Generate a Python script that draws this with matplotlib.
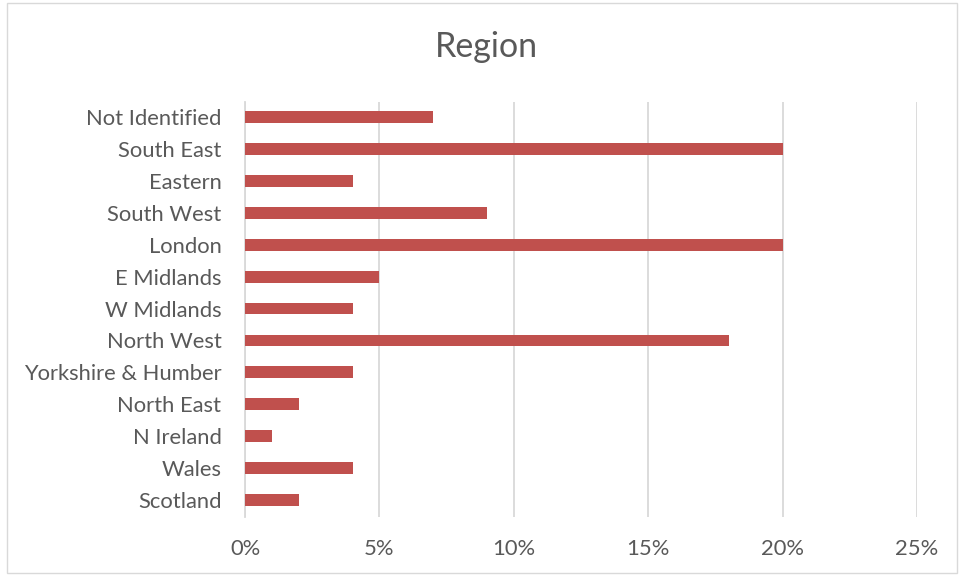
import matplotlib
matplotlib.use('Agg')
import matplotlib.pyplot as plt
from matplotlib.ticker import FuncFormatter, MultipleLocator
from matplotlib.patches import Rectangle

regions = ['Scotland', 'Wales', 'N Ireland', 'North East', 'Yorkshire & Humber',
           'North West', 'W Midlands', 'E Midlands', 'London', 'South West',
           'Eastern', 'South East', 'Not Identified']
shares = [2, 4, 1, 2, 4, 18, 4, 5, 20, 9, 4, 20, 7]

plt.rcParams['font.family'] = ['Lato', 'DejaVu Sans']
text_col = '#595959'

fig = plt.figure(figsize=(9.59, 5.75), dpi=100)
ax = fig.add_axes([0.2555, 0.1009, 0.7007, 0.7217])

ax.barh(range(len(regions)), shares, height=0.37, color='#C0504D', zorder=3)

ax.set_xlim(0, 25)
ax.set_ylim(-0.53, len(regions) - 0.53)
ax.xaxis.set_major_locator(MultipleLocator(5))
ax.xaxis.set_major_formatter(FuncFormatter(lambda v, p: '%d%%' % v))
ax.set_yticks(range(len(regions)))
ax.set_yticklabels(regions)
ax.grid(axis='x', color='#D9D9D9', linewidth=1.3, zorder=0)
for s in ['top', 'right', 'bottom']:
    ax.spines[s].set_visible(False)
ax.spines['left'].set_color('#D9D9D9')
ax.spines['left'].set_linewidth(1.3)
ax.tick_params(axis='both', length=0, labelsize=15.8, colors=text_col)
ax.tick_params(axis='y', pad=17)
ax.tick_params(axis='x', pad=16)

fig.text(0.507, 0.918, 'Region', ha='center', va='center', fontsize=24.5, color=text_col)

# chart border
fig.patches.append(Rectangle((7 / 959, 2 / 575), 950 / 959, 570 / 575, transform=fig.transFigure,
                             fill=False, edgecolor='#D9D9D9', linewidth=1))

fig.savefig('out.png', dpi=100)
